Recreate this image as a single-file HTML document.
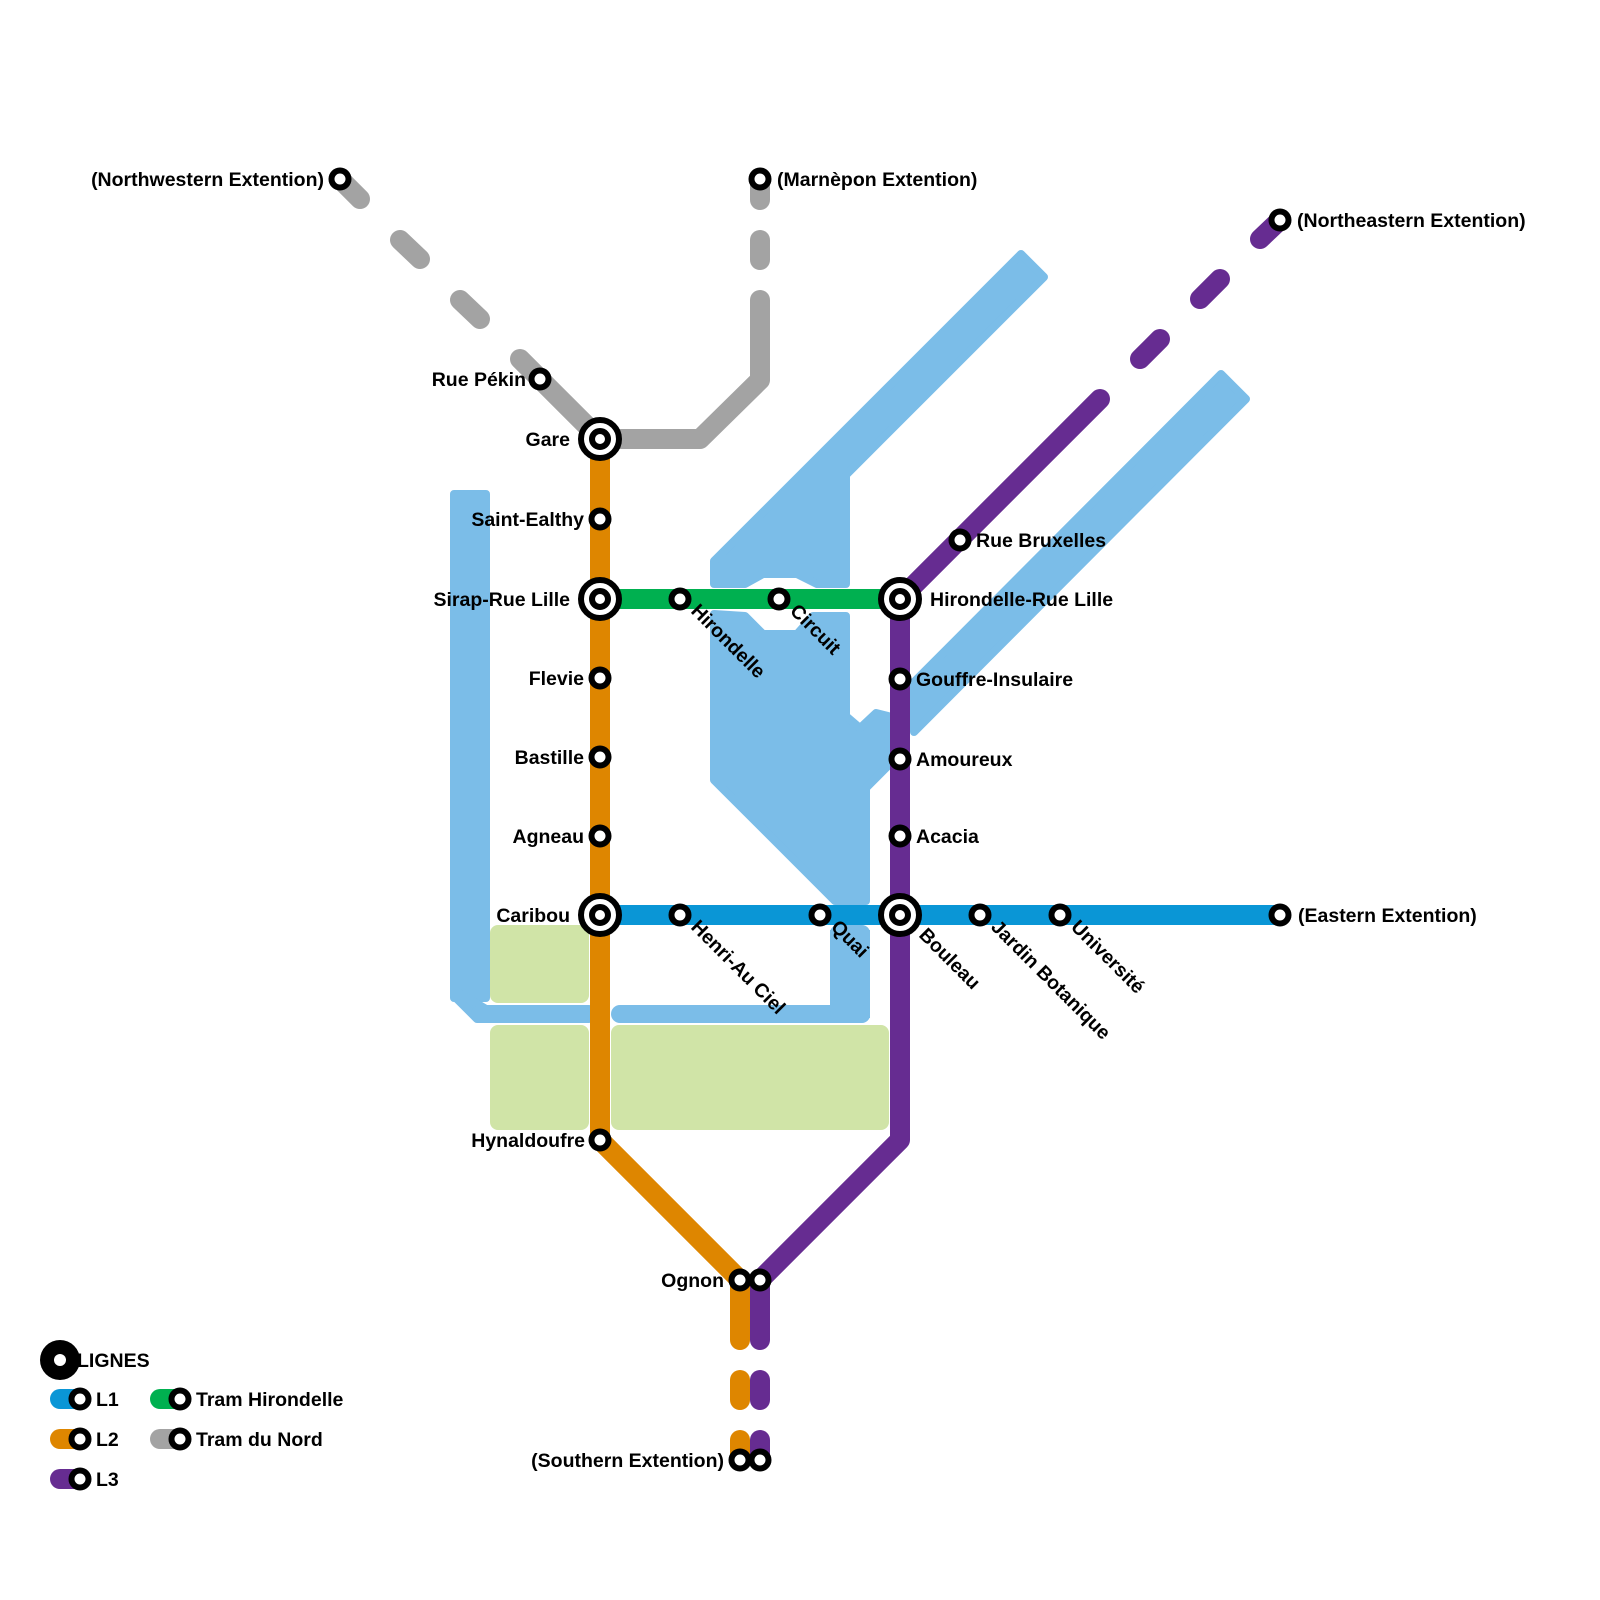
<!DOCTYPE html>
<html><head><meta charset="utf-8"><style>
html,body{margin:0;padding:0;background:#fff;}
svg{display:block;}
text{font-family:"Liberation Sans",Arial,sans-serif;font-weight:bold;font-size:19.5px;fill:#000;}
</style></head><body>
<svg width="1600" height="1600" viewBox="0 0 1600 1600" xmlns="http://www.w3.org/2000/svg">
<rect width="1600" height="1600" fill="#fff"/>
<!-- parks -->
<g fill="#d0e4a7">
<rect x="490" y="925" width="99" height="78" rx="8"/>
<rect x="490" y="1025" width="99" height="105" rx="8"/>
<rect x="611" y="1025" width="278" height="105" rx="8"/>
</g>
<!-- water -->
<g fill="#7bbde8" stroke="#7bbde8" stroke-width="8" stroke-linejoin="round">
<polygon points="1021,254 1044,277 846,475 846,584 817,584 797,574 763,574 745,584 714,584 714,561"/>
<polygon points="714,614 745,616 763,634 797,634 813,616 846,616 846,716 860,728 876,713 888,716 889,765 866,788 866,901 835,901 714,780"/>
<polygon points="1221,374 1246,399 914,732 914,682"/>
<polygon points="454,494 486,494 486,998 454,998"/>
<polygon points="454,990 486,1009 589,1009 589,1019 477,1019 454,996"/>
</g>
<g stroke="#7bbde8" stroke-linecap="round" fill="none">
<line x1="460" y1="500" x2="480" y2="500" stroke-width="20"/>
<line x1="480" y1="1014" x2="580" y2="1014" stroke-width="18"/>
<line x1="620" y1="1014" x2="860" y2="1014" stroke-width="18"/>
</g>
<path d="M830,930 L870,930 L870,1018 L830,1018 Z" fill="#7bbde8"/>
<rect x="830" y="925" width="40" height="20" rx="8" fill="#7bbde8"/>
<rect x="830" y="1005" width="40" height="18" rx="8" fill="#7bbde8"/>
<!-- lines -->
<g fill="none" stroke-width="20" stroke-linecap="round" stroke-linejoin="round">
<g stroke="#a3a3a3">
<polyline points="600,439 540,379 520,359"/>
<line x1="460" y1="300" x2="480" y2="319"/>
<line x1="400" y1="240" x2="420" y2="259"/>
<line x1="340" y1="179" x2="360" y2="199"/>
<polyline points="600,439 700,439 760,380 760,300"/>
<line x1="760" y1="240" x2="760" y2="260"/>
<line x1="760" y1="179" x2="760" y2="200"/>
</g>
<line x1="600" y1="599" x2="900" y2="599" stroke="#00b050" stroke-linecap="butt"/>
<line x1="600" y1="915" x2="1280" y2="915" stroke="#0a96d6" stroke-linecap="butt"/>
<g stroke="#de8600">
<polyline points="600,439 600,1140 740,1280 740,1340"/>
<line x1="740" y1="1380" x2="740" y2="1400"/>
<line x1="740" y1="1440" x2="740" y2="1460"/>
</g>
<g stroke="#662c91">
<polyline points="1100,399 900,599 900,1140 760,1280 760,1340"/>
<line x1="760" y1="1380" x2="760" y2="1400"/>
<line x1="760" y1="1440" x2="760" y2="1460"/>
<line x1="1140" y1="359" x2="1160" y2="339"/>
<line x1="1200" y1="299" x2="1220" y2="279"/>
<line x1="1260" y1="239" x2="1280" y2="220"/>
</g>
</g>
<!-- stations -->
<g fill="#fff" stroke="#000" stroke-width="6">
<circle cx="340" cy="179" r="8.5"/><circle cx="760" cy="179" r="8.5"/><circle cx="1280" cy="220" r="8.5"/>
<circle cx="540" cy="379" r="8.5"/><circle cx="600" cy="519" r="8.5"/>
<circle cx="600" cy="678" r="8.5"/><circle cx="600" cy="757" r="8.5"/><circle cx="600" cy="836" r="8.5"/>
<circle cx="600" cy="1140" r="8.5"/>
<circle cx="680" cy="599" r="8.5"/><circle cx="779" cy="599" r="8.5"/>
<circle cx="960" cy="540" r="8.5"/>
<circle cx="900" cy="679" r="8.5"/><circle cx="900" cy="759" r="8.5"/><circle cx="900" cy="836" r="8.5"/>
<circle cx="680" cy="915" r="8.5"/><circle cx="820" cy="915" r="8.5"/><circle cx="980" cy="915" r="8.5"/><circle cx="1060" cy="915" r="8.5"/><circle cx="1280" cy="915" r="8.5"/>
<circle cx="740" cy="1280" r="8.5"/><circle cx="760" cy="1280" r="8.5"/>
<circle cx="740" cy="1460" r="8.5"/><circle cx="760" cy="1460" r="8.5"/>
<circle cx="600" cy="439" r="19"/><circle cx="600" cy="439" r="8"/>
<circle cx="600" cy="599" r="19"/><circle cx="600" cy="599" r="8"/>
<circle cx="600" cy="915" r="19"/><circle cx="600" cy="915" r="8"/>
<circle cx="900" cy="599" r="19"/><circle cx="900" cy="599" r="8"/>
<circle cx="900" cy="915" r="19"/><circle cx="900" cy="915" r="8"/>
</g>
<!-- labels -->
<g>
<text x="324" y="186" text-anchor="end">(Northwestern Extention)</text>
<text x="777" y="186">(Marnèpon Extention)</text>
<text x="1297" y="227">(Northeastern Extention)</text>
<text x="526" y="386" text-anchor="end">Rue Pékin</text>
<text x="570" y="446" text-anchor="end">Gare</text>
<text x="584" y="526" text-anchor="end">Saint-Ealthy</text>
<text x="570" y="606" text-anchor="end">Sirap-Rue Lille</text>
<text x="584" y="685" text-anchor="end">Flevie</text>
<text x="584" y="764" text-anchor="end">Bastille</text>
<text x="584" y="843" text-anchor="end">Agneau</text>
<text x="570" y="922" text-anchor="end">Caribou</text>
<text x="585" y="1147" text-anchor="end">Hynaldoufre</text>
<text x="976" y="547">Rue Bruxelles</text>
<text x="930" y="606">Hirondelle-Rue Lille</text>
<text x="916" y="686">Gouffre-Insulaire</text>
<text x="916" y="766">Amoureux</text>
<text x="916" y="843">Acacia</text>
<text x="1298" y="922">(Eastern Extention)</text>
<text x="724" y="1287" text-anchor="end">Ognon</text>
<text x="724" y="1467" text-anchor="end">(Southern Extention)</text>
<text transform="translate(690,612) rotate(45)">Hirondelle</text>
<text transform="translate(789,612) rotate(45)">Circuit</text>
<text transform="translate(690,928) rotate(45)">Henri-Au Ciel</text>
<text transform="translate(830,928) rotate(45)">Quai</text>
<text transform="translate(918,936) rotate(45)">Bouleau</text>
<text transform="translate(990,928) rotate(45)">Jardin Botanique</text>
<text transform="translate(1070,928) rotate(45)">Université</text>
</g>
<!-- legend -->
<circle cx="60" cy="1360" r="20" fill="#000"/><circle cx="60" cy="1360" r="6" fill="#fff"/>
<text x="77" y="1367">LIGNES</text>
<g stroke-width="20" stroke-linecap="round">
<line x1="60" y1="1399" x2="78" y2="1399" stroke="#0a96d6"/>
<line x1="60" y1="1439" x2="78" y2="1439" stroke="#de8600"/>
<line x1="60" y1="1479" x2="78" y2="1479" stroke="#662c91"/>
<line x1="160" y1="1399" x2="178" y2="1399" stroke="#00b050"/>
<line x1="160" y1="1439" x2="178" y2="1439" stroke="#a3a3a3"/>
</g>
<g fill="#fff" stroke="#000" stroke-width="6">
<circle cx="80" cy="1399" r="8.5"/><circle cx="80" cy="1439" r="8.5"/><circle cx="80" cy="1479" r="8.5"/>
<circle cx="180" cy="1399" r="8.5"/><circle cx="180" cy="1439" r="8.5"/>
</g>
<text x="96" y="1406">L1</text>
<text x="96" y="1446">L2</text>
<text x="96" y="1486">L3</text>
<text x="196" y="1406">Tram Hirondelle</text>
<text x="196" y="1446">Tram du Nord</text>
</svg>
</body></html>
